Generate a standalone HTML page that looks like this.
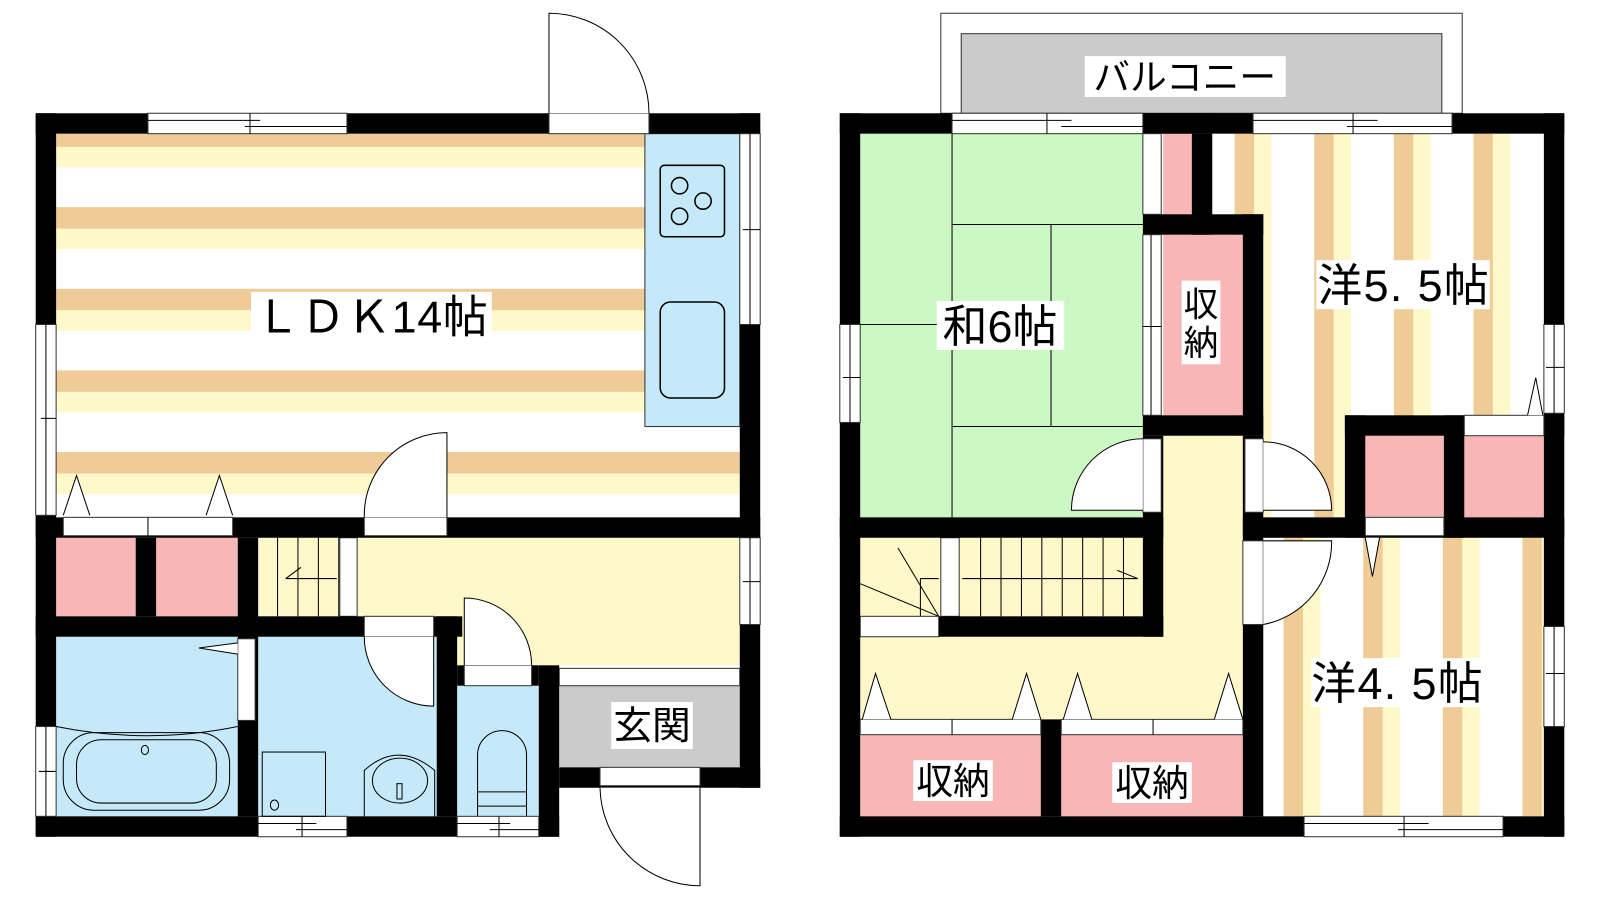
<!DOCTYPE html>
<html><head><meta charset="utf-8"><style>
html,body{margin:0;padding:0;background:#fff;}
svg{display:block}
text{font-family:"Liberation Sans","Noto Sans CJK JP",sans-serif;fill:#000}
</style></head><body>
<svg width="1600" height="900" viewBox="0 0 1568 882" preserveAspectRatio="none" xmlns="http://www.w3.org/2000/svg">
<defs>
<pattern id="hs" x="0" y="123" width="10" height="80" patternUnits="userSpaceOnUse">
<rect width="10" height="80" fill="#fff"/><rect width="10" height="21" fill="#efcb96"/><rect y="21" width="10" height="20" fill="#fff8c8"/>
</pattern>
<pattern id="vs1" x="1210" y="0" width="78" height="10" patternUnits="userSpaceOnUse">
<rect width="78" height="10" fill="#fff"/><rect width="19" height="10" fill="#efcb96"/><rect x="19" width="17" height="10" fill="#fff8c8"/>
</pattern>
<pattern id="vs2" x="1258" y="0" width="78" height="10" patternUnits="userSpaceOnUse">
<rect width="78" height="10" fill="#fff"/><rect width="19" height="10" fill="#efcb96"/><rect x="19" width="17" height="10" fill="#fff8c8"/>
</pattern>
</defs>

<!-- ===== LEFT PLAN ===== -->
<rect x="55" y="131" width="670" height="376" fill="url(#hs)"/>
<rect x="632" y="131" width="93" height="287" fill="#c5e9f8" stroke="#333" stroke-width="1"/>
<rect x="647" y="162" width="63" height="70" rx="4" fill="none" stroke="#000" stroke-width="1.5"/>
<circle cx="666" cy="182" r="8" fill="none" stroke="#000" stroke-width="1.5"/>
<circle cx="689" cy="197" r="8" fill="none" stroke="#000" stroke-width="1.5"/>
<circle cx="666" cy="212" r="8" fill="none" stroke="#000" stroke-width="1.5"/>
<rect x="647" y="296" width="63" height="94" rx="10" fill="none" stroke="#000" stroke-width="1.5"/>
<rect x="55" y="527" width="78" height="77" fill="#f8b6b6"/>
<rect x="153" y="527" width="80" height="77" fill="#f8b6b6"/>
<rect x="253" y="527" width="472" height="125" fill="#fff8c8"/>
<rect x="55" y="624" width="178" height="176" fill="#c5e9f8"/>
<rect x="253" y="624" width="175" height="176" fill="#c5e9f8"/>
<rect x="448" y="672" width="80" height="128" fill="#c5e9f8"/>
<rect x="548" y="672" width="177" height="80" fill="#cbcbcb"/>
<rect x="548" y="655" width="177" height="17" fill="#fff" stroke="#333"/>
<g stroke="#000" stroke-width="1">
<line x1="272" y1="527" x2="272" y2="604"/><line x1="292" y1="527" x2="292" y2="604"/><line x1="312" y1="527" x2="312" y2="604"/><line x1="332" y1="527" x2="332" y2="604"/>
<line x1="280" y1="567" x2="330" y2="567"/><line x1="280" y1="567" x2="295" y2="556"/>
</g>
<rect x="333" y="527" width="17" height="77" fill="#fff" stroke="#333"/>
<g fill="#000">
<rect x="35" y="111" width="710" height="20"/>
<rect x="35" y="111" width="20" height="709"/>
<rect x="725" y="111" width="20" height="661"/>
<rect x="35" y="800" width="513" height="20"/>
<rect x="548" y="752" width="197" height="20"/>
<rect x="528" y="652" width="20" height="168"/>
<rect x="35" y="507" width="710" height="20"/>
<rect x="133" y="527" width="20" height="77"/>
<rect x="233" y="527" width="20" height="273"/>
<rect x="35" y="604" width="418" height="20"/>
<rect x="428" y="604" width="20" height="196"/>
<rect x="448" y="652" width="80" height="20"/>
</g>
<g fill="#fff" stroke="#333" stroke-width="1">
<rect x="145" y="111" width="195" height="20"/>
<rect x="538" y="111" width="98" height="20"/>
<rect x="725" y="131" width="20" height="187"/>
<rect x="35" y="318" width="20" height="187"/>
<rect x="62" y="507" width="166" height="18"/>
<rect x="357" y="507" width="81" height="18"/>
<rect x="725" y="527" width="20" height="85"/>
<rect x="357" y="604" width="68" height="20"/>
<rect x="455" y="652" width="66" height="20"/>
<rect x="233" y="626" width="17" height="80"/>
<rect x="35" y="712" width="20" height="88"/>
<rect x="253" y="800" width="87" height="20"/>
<rect x="448" y="800" width="80" height="20"/>
<rect x="588" y="752" width="98" height="18"/>
</g>
<g stroke="#000" stroke-width="1" fill="none">
<line x1="145" y1="118" x2="255" y2="118"/><line x1="240" y1="124" x2="340" y2="124"/><line x1="245" y1="111" x2="245" y2="131"/>
<line x1="45" y1="318" x2="45" y2="505"/><line x1="40" y1="410" x2="55" y2="410"/>
<line x1="735" y1="131" x2="735" y2="318"/><line x1="728" y1="225" x2="745" y2="225"/>
<line x1="735" y1="527" x2="735" y2="612"/><line x1="728" y1="570" x2="745" y2="570"/>
<line x1="45" y1="712" x2="45" y2="800"/><line x1="38" y1="756" x2="55" y2="756"/>
<line x1="253" y1="807" x2="310" y2="807"/><line x1="290" y1="813" x2="340" y2="813"/><line x1="296" y1="800" x2="296" y2="820"/>
<line x1="448" y1="807" x2="500" y2="807"/><line x1="480" y1="813" x2="528" y2="813"/><line x1="489" y1="800" x2="489" y2="820"/>
<line x1="145" y1="507" x2="145" y2="525"/>
<path d="M538 111 L538 13 A98 98 0 0 1 636 111" fill="#fff"/>
<path d="M438 507 L438 424 A81 81 0 0 0 357 507" fill="#fff"/>
<path d="M425 624 L425 692 A68 68 0 0 1 357 624" fill="#fff"/>
<path d="M455 652 L455 586 A66 66 0 0 1 521 652" fill="#fff"/>
<path d="M686 772 L686 868 A98 98 0 0 1 588 772" fill="#fff"/>
<path d="M62 505 L75 466 L88 505" fill="#fff"/>
<path d="M202 505 L215 466 L228 505" fill="#fff"/>
<path d="M233 630 L195 635 L233 641" fill="#fff"/>
<path d="M55 712 Q145 730 233 712" />
<rect x="62" y="718" width="163" height="76" rx="30"/>
<rect x="75" y="725" width="137" height="62" rx="24"/>
<ellipse cx="142" cy="735" rx="3.5" ry="4.5"/>
<rect x="257" y="737" width="62" height="63"/>
<ellipse cx="269" cy="789" rx="4" ry="5"/>
<path d="M357 800 L357 755 Q390 725 426 755 L426 800"/>
<ellipse cx="392" cy="765" rx="27" ry="22"/>
<rect x="389" y="768" width="5" height="15"/>
<path d="M468 800 L468 740 A24 24 0 0 1 516 740 L516 800"/>
<line x1="468" y1="776" x2="516" y2="776"/><line x1="468" y1="790" x2="516" y2="790"/>
</g>
<rect x="246" y="286" width="236" height="47" fill="#fff"/>
<text x="364" y="326" font-size="44" text-anchor="middle" textLength="228">ＬＤＫ14帖</text>
<rect x="599" y="688" width="80" height="46" fill="#fff"/>
<text x="639" y="724" font-size="38" text-anchor="middle">玄関</text>

<!-- ===== RIGHT PLAN ===== -->
<rect x="922" y="13" width="511" height="98" fill="#fff" stroke="#333"/>
<rect x="942" y="33" width="471" height="78" fill="#cbcbcb" stroke="#333"/>
<rect x="1063" y="55" width="197" height="40" fill="#fff"/>
<text x="1161" y="88" font-size="36" text-anchor="middle">バルコニー</text>

<rect x="843" y="131" width="277" height="376" fill="#ccf8c4"/>
<g stroke="#000" stroke-width="1">
<line x1="933" y1="131" x2="933" y2="507"/>
<line x1="933" y1="220" x2="1120" y2="220"/>
<line x1="1030" y1="220" x2="1030" y2="418"/>
<line x1="933" y1="418" x2="1120" y2="418"/>
<line x1="843" y1="318" x2="933" y2="318"/>
</g>
<rect x="1188" y="131" width="325" height="376" fill="url(#vs1)"/>
<rect x="1238" y="527" width="275" height="273" fill="url(#vs2)"/>
<rect x="1140" y="427" width="78" height="278" fill="#fff8c8"/>
<rect x="843" y="604" width="375" height="101" fill="#fff8c8"/>
<rect x="843" y="527" width="277" height="77" fill="#fff8c8"/>
<rect x="1140" y="131" width="28" height="79" fill="#f8b6b6"/>
<rect x="1140" y="230" width="78" height="177" fill="#f8b6b6"/>
<rect x="1338" y="427" width="77" height="80" fill="#f8b6b6"/>
<rect x="1435" y="427" width="78" height="80" fill="#f8b6b6"/>
<rect x="843" y="720" width="177" height="80" fill="#f8b6b6"/>
<rect x="1040" y="720" width="178" height="80" fill="#f8b6b6"/>
<g stroke="#000" stroke-width="1" fill="none">
<line x1="961" y1="527" x2="961" y2="604"/><line x1="981" y1="527" x2="981" y2="604"/><line x1="1001" y1="527" x2="1001" y2="604"/><line x1="1021" y1="527" x2="1021" y2="604"/><line x1="1041" y1="527" x2="1041" y2="604"/><line x1="1061" y1="527" x2="1061" y2="604"/><line x1="1081" y1="527" x2="1081" y2="604"/><line x1="1101" y1="527" x2="1101" y2="604"/>
<line x1="943" y1="567" x2="1115" y2="567"/><line x1="1115" y1="567" x2="1095" y2="559"/>
<path d="M902 567 L902 604"/><path d="M902 567 L920 567"/>
<line x1="843" y1="572" x2="920" y2="604"/><line x1="880" y1="537" x2="920" y2="604"/>
</g>
<rect x="922" y="527" width="18" height="77" fill="#fff" stroke="#333"/>
<rect x="843" y="604" width="77" height="20" fill="#fff" stroke="#333"/>
<g fill="#000">
<rect x="823" y="111" width="710" height="20"/>
<rect x="823" y="111" width="20" height="709"/>
<rect x="1513" y="111" width="20" height="709"/>
<rect x="823" y="800" width="710" height="20"/>
<rect x="1120" y="111" width="68" height="20"/>
<rect x="1168" y="131" width="20" height="99"/>
<rect x="1120" y="210" width="118" height="20"/>
<rect x="1218" y="210" width="20" height="217"/>
<rect x="1120" y="407" width="118" height="20"/>
<rect x="1120" y="427" width="20" height="197"/>
<rect x="823" y="507" width="317" height="20"/>
<rect x="920" y="604" width="220" height="20"/>
<rect x="1218" y="427" width="20" height="373"/>
<rect x="1218" y="507" width="315" height="20"/>
<rect x="1318" y="407" width="215" height="20"/>
<rect x="1318" y="407" width="20" height="120"/>
<rect x="1415" y="407" width="20" height="120"/>
<rect x="1020" y="705" width="20" height="95"/>
</g>
<g fill="#fff" stroke="#333" stroke-width="1">
<rect x="933" y="111" width="187" height="20"/>
<rect x="1228" y="111" width="195" height="20"/>
<rect x="1120" y="131" width="18" height="79"/>
<rect x="1120" y="230" width="18" height="177"/>
<rect x="823" y="318" width="20" height="96"/>
<rect x="1513" y="318" width="20" height="87"/>
<rect x="1513" y="614" width="20" height="98"/>
<rect x="1278" y="800" width="195" height="20"/>
<rect x="1435" y="407" width="78" height="20"/>
<rect x="1338" y="507" width="77" height="18"/>
<rect x="843" y="705" width="177" height="15"/>
<rect x="1040" y="705" width="178" height="15"/>
<rect x="1120" y="430" width="18" height="72"/>
<rect x="1220" y="430" width="18" height="72"/>
<rect x="1218" y="530" width="20" height="82"/>
</g>
<g stroke="#000" stroke-width="1" fill="none">
<line x1="933" y1="118" x2="1050" y2="118"/><line x1="1040" y1="124" x2="1120" y2="124"/><line x1="1026" y1="111" x2="1026" y2="131"/>
<line x1="1228" y1="118" x2="1350" y2="118"/><line x1="1320" y1="124" x2="1423" y2="124"/><line x1="1326" y1="111" x2="1326" y2="131"/>
<line x1="1278" y1="807" x2="1400" y2="807"/><line x1="1370" y1="813" x2="1473" y2="813"/><line x1="1376" y1="800" x2="1376" y2="820"/>
<line x1="833" y1="318" x2="833" y2="414"/><line x1="826" y1="370" x2="843" y2="370"/>
<line x1="1523" y1="318" x2="1523" y2="405"/><line x1="1515" y1="360" x2="1533" y2="360"/>
<line x1="1523" y1="614" x2="1523" y2="712"/><line x1="1515" y1="660" x2="1533" y2="660"/>
<line x1="1128" y1="230" x2="1128" y2="407"/><line x1="1120" y1="320" x2="1138" y2="320"/>
<line x1="933" y1="705" x2="933" y2="720"/><line x1="1130" y1="705" x2="1130" y2="720"/>
<path d="M1120 500 L1050 500 A70 70 0 0 1 1120 430" fill="#fff"/>
<path d="M1238 500 L1305 500 A67 67 0 0 0 1238 433" fill="#fff"/>
<path d="M1238 530 L1305 530 A82 82 0 0 1 1238 612" fill="#fff"/>
<path d="M1497 407 L1505 370 L1512 407" fill="#fff"/>
<path d="M1338 527 L1345 565 L1352 527" fill="#fff"/>
<path d="M845 705 L858 660 L873 705" fill="#fff"/>
<path d="M992 705 L1006 660 L1020 705" fill="#fff"/>
<path d="M1042 705 L1056 660 L1070 705" fill="#fff"/>
<path d="M1190 705 L1204 660 L1218 705" fill="#fff"/>
</g>
<rect x="918" y="295" width="125" height="48" fill="#fff"/>
<text x="980" y="335" font-size="44" text-anchor="middle">和6帖</text>
<rect x="1158" y="275" width="38" height="82" fill="#fff"/>
<text x="1177" y="310" font-size="34" text-anchor="middle">収</text>
<text x="1177" y="348" font-size="34" text-anchor="middle">納</text>
<rect x="1290" y="255" width="170" height="48" fill="#fff"/>
<text x="1375" y="295" font-size="44" text-anchor="middle" textLength="168">洋5. 5帖</text>
<rect x="1285" y="645" width="170" height="48" fill="#fff"/>
<text x="1369" y="685" font-size="44" text-anchor="middle" textLength="168">洋4. 5帖</text>
<rect x="895" y="745" width="78" height="40" fill="#fff"/>
<text x="934" y="778" font-size="36" text-anchor="middle">収納</text>
<rect x="1090" y="747" width="78" height="40" fill="#fff"/>
<text x="1129" y="780" font-size="36" text-anchor="middle">収納</text>
</svg>
</body></html>
